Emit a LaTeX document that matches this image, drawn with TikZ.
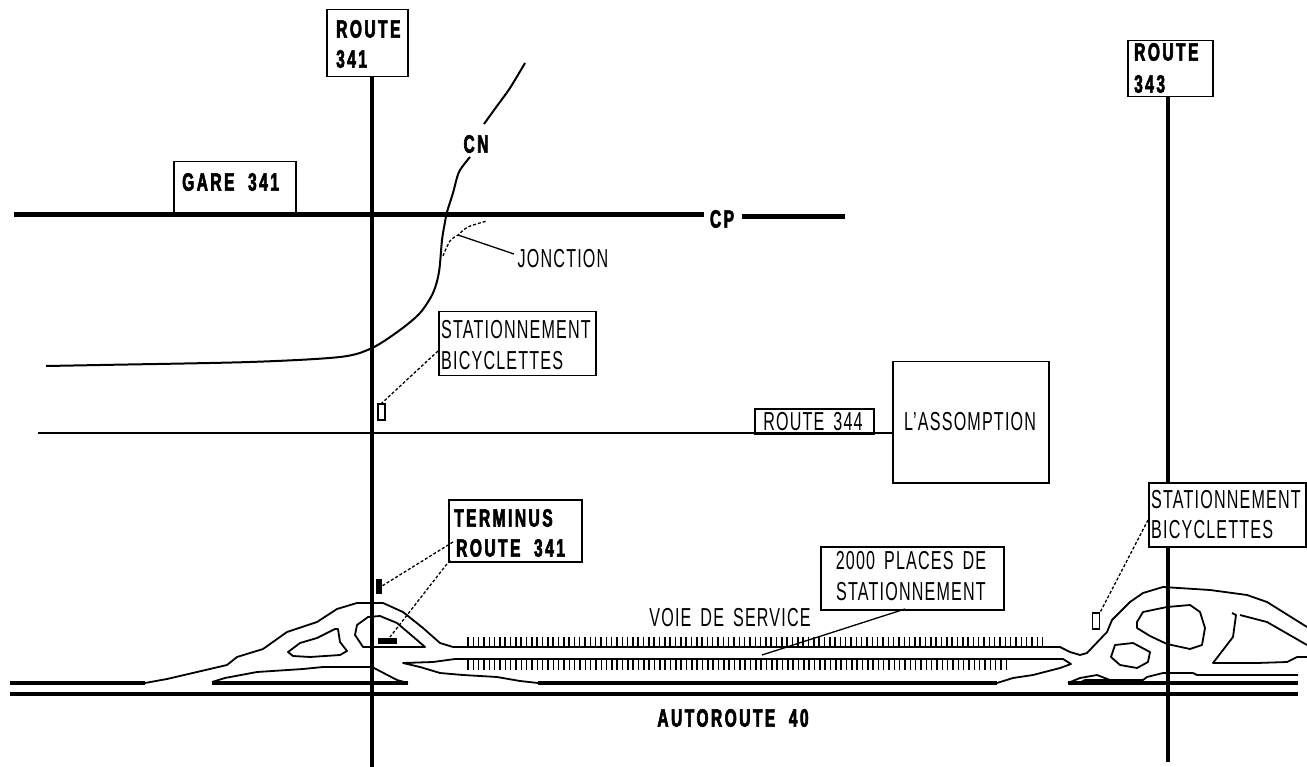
\documentclass[tikz,border=0pt]{standalone}
\usepackage{fontspec}
\setmainfont[FakeStretch=0.62,LetterSpace=4.5,WordSpace=1.6]{Liberation Sans}
\newfontfamily\boldlab[FakeStretch=0.62,LetterSpace=10,WordSpace=2,RawFeature={embolden=2.5}]{Liberation Sans Bold}
\tikzset{
 road/.style={line width=4pt},
 rail/.style={line width=5pt},
 thin line/.style={line width=1.6pt,line join=round},
 outline/.style={line width=1.8pt,line join=round},
 thick strip/.style={line width=4pt},
 leader/.style={line width=1.3pt},
 dotleader/.style={line width=1.3pt,densely dashed},
 box/.style={draw,line width=1.5pt,fill=white,inner sep=0pt,anchor=north west},
 lab/.style={font=\fontsize{26}{26}\selectfont,inner sep=0pt},
 blab/.style={font=\boldlab\fontsize{25}{25}\selectfont,inner sep=0pt},
 tick/.style={line width=1.5pt}
}
\begin{document}
\begin{tikzpicture}[x=1pt,y=-1pt]
\useasboundingbox (0,0) rectangle (1307,767);
% roads
\coordinate (r341a) at (371.5,75); \coordinate (r341b) at (371.5,767);
\coordinate (r343a) at (1167.5,96); \coordinate (r343b) at (1167.5,762);
\draw[road] (r341a) -- (r341b);
\draw[road] (r343a) -- (r343b);
\node[box,minimum width=81pt,minimum height=67pt] (b341) at (326,9) {};
\node[box,minimum width=85pt,minimum height=56pt] (b343) at (1127,40) {};
\node[blab,anchor=west] at (336,29) {ROUTE};
\node[blab,anchor=west] at (336,59) {341};
\node[blab,anchor=west] at (1134,52) {ROUTE};
\node[blab,anchor=west] at (1134,84) {343};
% CP rail
\node[box,minimum width=122pt,minimum height=54pt] (gare) at (173,161) {};
\node[blab,anchor=west] at (182,182) {GARE 341};
\coordinate (cpa) at (14,215); \coordinate (cpb) at (704,215);
\coordinate (cpc) at (742,216.5); \coordinate (cpd) at (845,216.5);
\draw[rail] (cpa) -- (cpb);
\draw[rail] (cpc) -- (cpd);
\node[blab] (cp) at (722,219) {CP};
% CN
\node[blab] (cn) at (476,144) {CN};
\draw[thin line,line width=2pt] plot[smooth,tension=.5] coordinates {(525,63) (510,88) (497,106) (484,124)};
\draw[thin line,line width=2pt] plot[smooth,tension=.5] coordinates {(470,157) (459,172) (453,193) (447,212) (445,222) (442,240) (439,272) (433,293) (420,313) (400,330) (372,348) (340,357) (250,362) (100,365) (46,366)};
\draw[dotleader] plot[smooth,tension=.6] coordinates {(443,256) (450,241) (458,235) (468,227) (487,221)};
\coordinate (jp) at (458,235);
\node[lab] (jonc) at (563,259) {JONCTION};
\draw[leader] (jp) -- (514,254);
% stationnement 1
\node[box,minimum width=157pt,minimum height=64pt] (st1) at (438,311) {};
\node[lab,anchor=west] at (441,330) {STATIONNEMENT};
\node[lab,anchor=west] at (441,361) {BICYCLETTES};
\node[draw,line width=1.2pt,minimum width=7pt,minimum height=16pt,inner sep=0pt] (rk1) at (381.5,412) {};
\draw[dotleader] (st1.west |- 0,351) -- (rk1.north);
% 344
\coordinate (r344a) at (38,433);
\node[box,minimum width=156pt,minimum height=121pt] (ass) at (892,361) {};
\draw[line width=2pt] (r344a) -- (ass.west |- r344a);
\node[box,minimum width=119pt,minimum height=25pt,fill=none] (b344) at (754,408) {};
\node[lab] at (813,422) {ROUTE 344};
\node[lab] at (970,422) {L'ASSOMPTION};
% terminus
\node[box,minimum width=133pt,minimum height=62pt] (term) at (448,499) {};
\node[blab,anchor=west] at (454,518) {TERMINUS};
\node[blab,anchor=west] at (456,548) {ROUTE 341};
\fill (376,579) rectangle (382,594);
\fill (378,638) rectangle (397,644);
\coordinate (t1) at (382,586); \coordinate (t2) at (390,637);
\draw[dotleader] (453,542) -- (t1);
\draw[dotleader] (450,560) -- (t2);
% 2000
\node[box,minimum width=183pt,minimum height=63pt] (pl) at (820,546) {};
\node[lab] at (911,561) {2000 PLACES DE};
\node[lab] at (911,592) {STATIONNEMENT};
\node[lab] at (730,618) {VOIE DE SERVICE};
\draw[leader] (905,609) -- (762,655);
% right stat
\node[box,minimum width=157pt,minimum height=64pt] (st2) at (1148,482) {};
\node[lab,anchor=west] at (1151,500) {STATIONNEMENT};
\node[lab,anchor=west] at (1151,530) {BICYCLETTES};
\node[draw,line width=1.2pt,minimum width=7pt,minimum height=16pt,inner sep=0pt] (rk2) at (1096,621) {};
\draw[dotleader] (st2.west |- 0,520) -- (rk2.north east);
% motorway
\draw[road] (10,694) -- (1298,694);
\draw[thick strip] (10,683) -- (145,683);
\draw[thick strip] (212,683) -- (408,683);
\draw[thick strip] (538,683) -- (997,683);
\draw[thick strip] (1068,683) -- (1298,683);
\node[blab] at (733,718) {AUTOROUTE 40};
% interchange outline
\draw[outline] (145,683) -- (167,679) -- (197,672) -- (227,665) -- (237,657) -- (263,649) -- (287,632) -- (317,622) -- (337,609) -- (357,603) -- (383,603) -- (403,612) -- (423,628) -- (440,643) -- (453,647) -- (1060,647) -- (1070,652) -- (1080,655) -- (1087,653) -- (1107,632) -- (1112,620) -- (1130,602) -- (1143,593) -- (1163,587) -- (1210,590) -- (1247,595) -- (1267,602) -- (1307,627);
\draw[outline] (363,647) -- (425,647) -- (417,640) -- (397,623) -- (380,616) -- (368,617) -- (357,625) -- (355,635) -- cycle;
\draw[outline] (288,652) -- (300,643) -- (317,638) -- (335,629) -- (338,629) -- (340,642) -- (347,651) -- (340,655) -- (310,657) -- (293,656) -- cycle;
\draw[outline] (212,682) -- (225,678) -- (257,672) -- (303,669) -- (323,667) -- (372,667) -- (397,680) -- (408,683);
\draw[outline] (538,683) -- (520,681) -- (497,677) -- (463,675) -- (440,673) -- (420,667) -- (403,663) -- (433,662) -- (455,659) -- (1063,659) -- (1071,664) -- (1060,668) -- (1033,675) -- (1013,678) -- (997,683);
% ticks
\foreach \x in {0,...,108} \draw[tick] ({468+\x*5.32},637) -- ++(0,10);
\foreach \x in {0,...,101} \draw[tick] ({468+\x*5.33},660) -- ++(0,10);
% right interchange
\draw[outline] (1137,622) -- (1143,612) -- (1167,607) -- (1190,605) -- (1200,612) -- (1205,628) -- (1202,645) -- (1190,649) -- (1167,644) -- (1150,636) -- (1137,628) -- cycle;
\draw[outline] (1115,645) -- (1133,643) -- (1150,652) -- (1148,662) -- (1137,668) -- (1120,665) -- (1111,657) -- cycle;
\draw[outline] (1232,613) -- (1236,615) -- (1233,637) -- (1213,663) -- (1257,663) -- (1287,662) -- (1297,657) -- (1307,657);
\draw[outline] (1240,615) -- (1267,622) -- (1307,645);
\draw[outline] (1068,683) -- (1080,678) -- (1097,675) -- (1110,680) -- (1143,680) -- (1147,677) -- (1163,673) -- (1193,673) -- (1197,675) -- (1298,675);
\fill (1075,684) -- (1085,679) -- (1143,679) -- (1143,684) -- cycle;
\end{tikzpicture}
\end{document}
